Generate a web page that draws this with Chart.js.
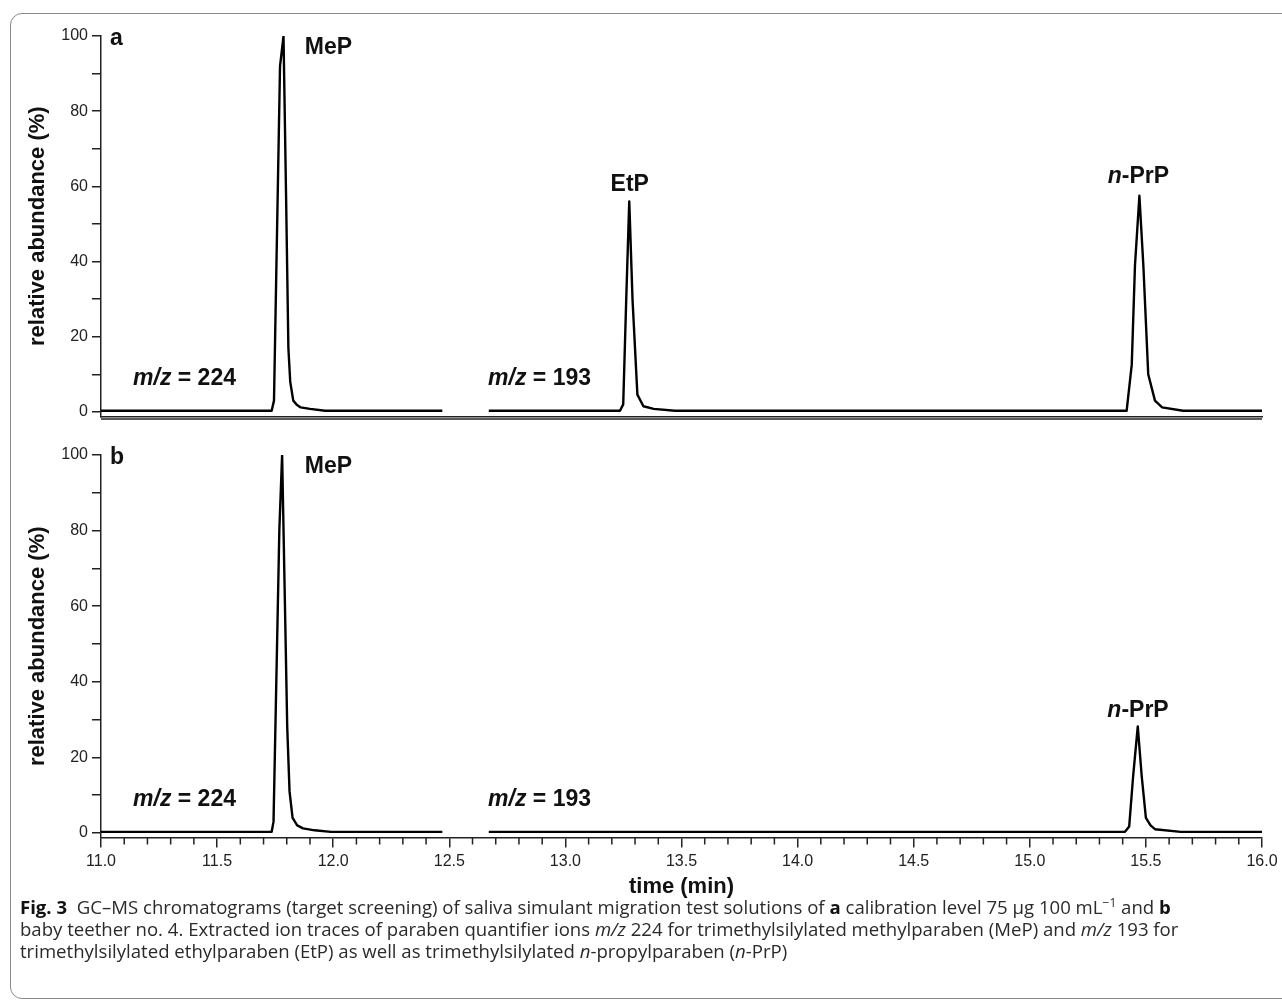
<!DOCTYPE html>
<html>
<head>
<meta charset="utf-8">
<script src="https://cdn.jsdelivr.net/npm/chart.js@4.4.1/dist/chart.umd.min.js"></script>
<style>
  body { margin: 0; background: #fff; width: 1282px; height: 1000px; overflow: hidden; position: relative; }
  #frame { position: absolute; left: 10px; top: 13px; width: 1300px; height: 986px; border: 1.5px solid #8a8a8a; border-radius: 12px; box-sizing: border-box; }
  #wrapA { position: absolute; left: 0; top: 0; width: 1282px; height: 430px; }
  #wrapB { position: absolute; left: 0; top: 430px; width: 1282px; height: 480px; }
  .cap { position: absolute; left: 20px; white-space: nowrap; font-family: "Open Sans", sans-serif; font-size: 16px; color: #2a2a2a; line-height: 1; }
  .cap b { font-weight: 700; color: #111; }
  .cap sup { font-size: 0.65em; vertical-align: 0.55em; line-height: 0; }
</style>
</head>
<body>
<div id="frame"></div>
<div id="wrapA"><canvas id="chartA"></canvas></div>
<div id="wrapB"><canvas id="chartB"></canvas></div>
<div class="cap" id="cap1" style="top:898px"><b>Fig. 3</b>&nbsp;&nbsp;GC–MS chromatograms (target screening) of saliva simulant migration test solutions of <b>a</b> calibration level 75 µg 100 mL<sup>−1</sup> and <b>b</b></div>
<div class="cap" id="cap2" style="top:920px">baby teether no. 4. Extracted ion traces of paraben quantifier ions <i>m/z</i> 224 for trimethylsilylated methylparaben (MeP) and <i>m/z</i> 193 for</div>
<div class="cap" id="cap3" style="top:942px">trimethylsilylated ethylparaben (EtP) as well as trimethylsilylated <i>n</i>-propylparaben (<i>n</i>-PrP)</div>

<script>
// panel a, m/z 224 trace
var timeA224 = [11.0, 11.735, 11.745, 11.771, 11.786, 11.797, 11.807, 11.815, 11.828, 11.843, 11.86, 11.90, 11.965, 12.47];
var abundA224 = [0.3, 0.3, 3, 92, 100, 57.5, 17, 8, 3, 1.9, 1.2, 0.8, 0.3, 0.3];
// panel a, m/z 193 trace (EtP and n-PrP)
var timeA193 = [12.67, 13.235, 13.249, 13.262, 13.275, 13.289, 13.310, 13.336, 13.38, 13.472, 15.417, 15.439, 15.453, 15.472, 15.489, 15.510, 15.539, 15.57, 15.66, 16.0];
var abundA193 = [0.3, 0.3, 2, 30, 56, 30, 4.6, 1.5, 0.8, 0.3, 0.3, 12.5, 39, 57.5, 39, 10, 3, 1.2, 0.3, 0.3];
// panel b, m/z 224 trace
var timeB224 = [11.0, 11.735, 11.743, 11.768, 11.780, 11.792, 11.802, 11.812, 11.825, 11.845, 11.87, 11.92, 11.99, 12.47];
var abundB224 = [0.3, 0.3, 3, 80, 100, 61, 28, 11, 4, 2, 1.2, 0.7, 0.3, 0.3];
// panel b, m/z 193 trace (n-PrP only)
var timeB193 = [12.67, 15.41, 15.428, 15.445, 15.465, 15.482, 15.50, 15.52, 15.539, 15.65, 16.0];
var abundB193 = [0.3, 0.3, 1.7, 15, 28.2, 15, 4, 2, 1, 0.3, 0.3];

var yTicks = [0, 10, 20, 30, 40, 50, 60, 70, 80, 90, 100];
var xMajor = [11.0, 11.5, 12.0, 12.5, 13.0, 13.5, 14.0, 14.5, 15.0, 15.5, 16.0];

Chart.defaults.font.family = '"Liberation Sans", Arial, sans-serif';
Chart.defaults.color = '#111';

function pts(t, v) {
    return t.map(function(x, i) { return {x: x, y: v[i]}; });
}

function trace(t, v) {
    return {
        data: pts(t, v),
        borderColor: '#000',
        borderWidth: 2.4,
        borderJoinStyle: 'round',
        pointRadius: 0,
        tension: 0,
        fill: false
    };
}

// bold labels near the peaks, placed in data units
var labelPlugin = {
    id: 'peakLabels',
    afterDatasetsDraw: function(chart, args, opts) {
        var ctx = chart.ctx, xs = chart.scales.x, ys = chart.scales.y;
        ctx.save();
        ctx.fillStyle = '#111';
        ctx.textBaseline = 'alphabetic';
        opts.items.forEach(function(it) {
            var total = 0;
            it.parts.forEach(function(p) {
                ctx.font = (p[1] ? 'italic ' : '') + 'bold 23px "Liberation Sans", Arial, sans-serif';
                total += ctx.measureText(p[0]).width;
            });
            var px = xs.getPixelForValue(it.x);
            if (it.align === 'center') px -= total / 2;
            var py = ys.getPixelForValue(it.y);
            it.parts.forEach(function(p) {
                ctx.font = (p[1] ? 'italic ' : '') + 'bold 23px "Liberation Sans", Arial, sans-serif';
                ctx.textAlign = 'left';
                ctx.fillText(p[0], px, py);
                px += ctx.measureText(p[0]).width;
            });
        });
        ctx.restore();
    }
};

// second rule under panel a, minor ticks under panel b
var axisExtras = {
    id: 'axisExtras',
    afterDraw: function(chart, args, opts) {
        var ctx = chart.ctx, area = chart.chartArea, xs = chart.scales.x;
        ctx.save();
        ctx.strokeStyle = '#222';
        ctx.lineWidth = 1.5;
        if (opts.doubleRule) {
            ctx.beginPath();
            ctx.moveTo(area.left, area.bottom + 2.5);
            ctx.lineTo(area.right, area.bottom + 2.5);
            ctx.stroke();
        }
        if (opts.minorTicks) {
            ctx.beginPath();
            for (var i = 110; i <= 160; i++) {
                if (i % 5 === 0) continue;
                var px = xs.getPixelForValue(i / 10);
                ctx.moveTo(px, area.bottom);
                ctx.lineTo(px, area.bottom + 7);
            }
            ctx.stroke();
        }
        ctx.restore();
    }
};

function yAxis() {
    return {
        min: -1.2,
        max: 100,
        afterFit: function(s) { s.width = 101; },
        afterBuildTicks: function(s) { s.ticks = yTicks.map(function(v) { return {value: v}; }); },
        ticks: {
            font: {size: 16},
            color: '#222',
            padding: 4,
            callback: function(v) { return v % 20 === 0 ? v : ''; }
        },
        grid: {drawOnChartArea: false, tickLength: 9, color: '#222', lineWidth: 1.5},
        border: {color: '#222', width: 1.5},
        title: {
            display: true,
            text: 'relative abundance (%)',
            font: {size: 22, weight: 'bold'},
            color: '#111',
            padding: {top: 25, bottom: 0}
        }
    };
}

new Chart(document.getElementById('chartA'), {
    type: 'line',
    data: {datasets: [trace(timeA224, abundA224), trace(timeA193, abundA193)]},
    options: {
        responsive: true,
        maintainAspectRatio: false,
        animation: false,
        layout: {padding: {top: 36, left: 0, right: 20, bottom: 0}},
        plugins: {
            legend: {display: false},
            tooltip: {enabled: false},
            peakLabels: {items: [
                {parts: [['a', false]], x: 11.039, y: 97.6, align: 'left'},
                {parts: [['MeP', false]], x: 11.878, y: 95.2, align: 'left'},
                {parts: [['EtP', false]], x: 13.277, y: 58.8, align: 'center'},
                {parts: [['n', true], ['-PrP', false]], x: 15.468, y: 61.0, align: 'center'},
                {parts: [['m/z', true], [' = 224', false]], x: 11.138, y: 7.1, align: 'left'},
                {parts: [['m/z', true], [' = 193', false]], x: 12.667, y: 7.1, align: 'left'}
            ]},
            axisExtras: {doubleRule: true, minorTicks: false}
        },
        scales: {
            x: {
                type: 'linear',
                min: 11,
                max: 16,
                afterFit: function(s) { s.height = 11.5; },
                ticks: {display: false},
                grid: {display: false},
                border: {display: true, color: '#222', width: 1.5}
            },
            y: yAxis()
        }
    },
    plugins: [labelPlugin, axisExtras]
});

new Chart(document.getElementById('chartB'), {
    type: 'line',
    data: {datasets: [trace(timeB224, abundB224), trace(timeB193, abundB193)]},
    options: {
        responsive: true,
        maintainAspectRatio: false,
        animation: false,
        layout: {padding: {top: 25, left: 0, right: 20, bottom: 0}},
        plugins: {
            legend: {display: false},
            tooltip: {enabled: false},
            peakLabels: {items: [
                {parts: [['b', false]], x: 11.039, y: 97.6, align: 'left'},
                {parts: [['MeP', false]], x: 11.878, y: 95.2, align: 'left'},
                {parts: [['n', true], ['-PrP', false]], x: 15.466, y: 30.6, align: 'center'},
                {parts: [['m/z', true], [' = 224', false]], x: 11.138, y: 7.1, align: 'left'},
                {parts: [['m/z', true], [' = 193', false]], x: 12.667, y: 7.1, align: 'left'}
            ]},
            axisExtras: {doubleRule: false, minorTicks: true}
        },
        scales: {
            x: {
                type: 'linear',
                min: 11,
                max: 16,
                afterFit: function(s) { s.height = 72.5; },
                afterBuildTicks: function(s) { s.ticks = xMajor.map(function(v) { return {value: v}; }); },
                ticks: {
                    font: {size: 16},
                    color: '#222',
                    padding: 4,
                    maxRotation: 0,
                    autoSkip: false,
                    callback: function(v) { return Number(v).toFixed(1); }
                },
                grid: {drawOnChartArea: false, tickLength: 10, color: '#222', lineWidth: 1.5},
                border: {color: '#222', width: 1.5},
                title: {
                    display: true,
                    text: 'time (min)',
                    font: {size: 22, weight: 'bold'},
                    color: '#111',
                    padding: {top: 0, bottom: 10}
                }
            },
            y: yAxis()
        }
    },
    plugins: [labelPlugin, axisExtras]
});

// fit caption font so line one ends where it does in the figure
var cap1 = document.getElementById('cap1');
var w = cap1.getBoundingClientRect().width;
var fs = 16 * 1151 / w;
['cap1', 'cap2', 'cap3'].forEach(function(id) {
    document.getElementById(id).style.fontSize = fs.toFixed(2) + 'px';
});
</script>
</body>
</html>
